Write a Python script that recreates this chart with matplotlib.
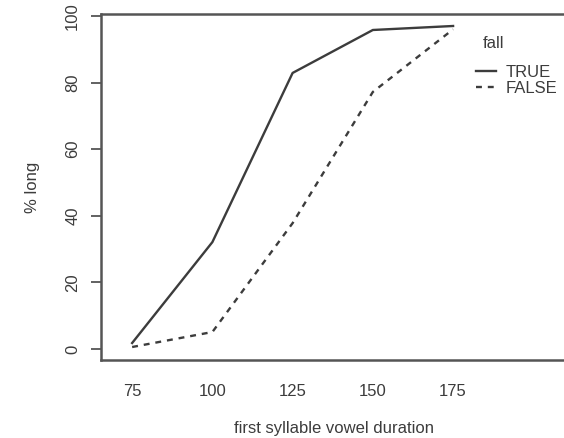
import matplotlib
matplotlib.use('Agg')
import matplotlib.pyplot as plt

plt.rcParams['font.family'] = ['Liberation Sans', 'DejaVu Sans']

# 数据：第一音节元音时长与长音比例
durations = [75, 100, 125, 150, 175]
pct_true = [1.8, 32.1, 82.9, 95.8, 97.0]
pct_false = [0.6, 5.1, 37.8, 77.2, 96.0]
series_labels = ['TRUE', 'FALSE']
legend_title = 'fall'

W, H = 564, 438
fig = plt.figure(figsize=(W / 100, H / 100), dpi=100)
ax = fig.add_axes([101 / W, 1 - 360 / H, (568 - 101) / W, (360 - 14) / H])

gray = '#3c3c3c'
ax.plot(durations, pct_true, color=gray, lw=1.7, label=series_labels[0])
ax.plot(durations, pct_false, color=gray, lw=1.7, linestyle=(0, (2.5, 2.5)), label=series_labels[1])

ax.set_xlim(65.3, 210.8)
ax.set_ylim(-3.3, 100.6)
ax.set_xticks(durations)
ax.set_yticks([0, 20, 40, 60, 80, 100])

for s in ax.spines.values():
    s.set_color('#555555')
    s.set_linewidth(1.8)

ax.tick_params(axis='x', length=0, pad=17, labelsize=12, labelcolor=gray)
ax.tick_params(axis='y', length=7, width=1.3, color='#555555', pad=8, labelsize=12, labelcolor=gray)
for lab in ax.get_yticklabels():
    lab.set_rotation(90)
    lab.set_va('center')

fig.text(334 / W, 1 - 428 / H, 'first syllable vowel duration', fontsize=12, color=gray,
         ha='center', va='center')
fig.text(32 / W, 1 - 187 / H, '% long', fontsize=12, color=gray, rotation=90,
         ha='center', va='center')

fig.text(483 / W, 1 - 43 / H, legend_title, fontsize=12, color=gray, ha='left', va='center')
leg = ax.legend(loc='upper left', bbox_to_anchor=(476 / W, 1 - 65 / H), bbox_transform=fig.transFigure,
                frameon=False, borderpad=0, borderaxespad=0, handlelength=1.2, handletextpad=0.6,
                labelspacing=0.05, fontsize=12)
for t in leg.get_texts():
    t.set_color(gray)

fig.savefig('out.png', dpi=100)
